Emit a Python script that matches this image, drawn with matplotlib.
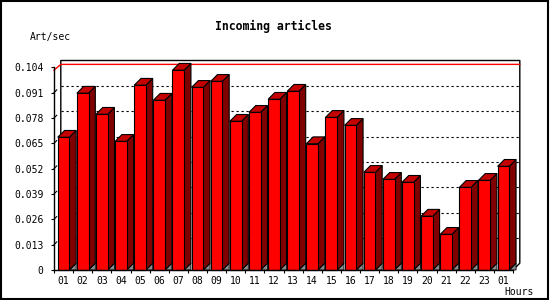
import numpy as np
import matplotlib
matplotlib.use('Agg')
import matplotlib.pyplot as plt
from matplotlib.patches import Polygon, Rectangle

hours = ['01', '02', '03', '04', '05', '06', '07', '08', '09', '10', '11', '12',
         '13', '14', '15', '16', '17', '18', '19', '20', '21', '22', '23', '01']
rate = [0.0681, 0.0907, 0.0799, 0.0660, 0.0948, 0.0871, 0.1025, 0.0937,
        0.0968, 0.0763, 0.0809, 0.0876, 0.0917, 0.0648, 0.0783, 0.0742,
        0.0501, 0.0465, 0.0450, 0.0276, 0.0183, 0.0424, 0.0460, 0.0532]
yticks = [0, 0.013, 0.026, 0.039, 0.052, 0.065, 0.078, 0.091, 0.104]
ytick_labels = ['0', '0.013', '0.026', '0.039', '0.052', '0.065', '0.078', '0.091', '0.104']

W, H = 550, 300
fig = plt.figure(figsize=(W / 100, H / 100), dpi=100)
fig.patch.set_facecolor('white')
fig.patches.append(Rectangle((0.001, 0.002), 0.996, 0.994, transform=fig.transFigure,
                             fill=False, edgecolor='black', linewidth=1.5))

# front plane of the plot in pixels
x0, x1, y0, y1 = 54, 513, 270, 67.3
ax = fig.add_axes([x0 / W, (H - y0) / H, (x1 - x0) / W, (y0 - y1) / H])
n = len(rate)
ymax = 0.104
ax.set_xlim(0, n)
ax.set_ylim(0, ymax)

# 3d depth (pixels -> data units)
DX = 6.8 / ((x1 - x0) / n)
DY = 6.8 / ((y0 - y1) / ymax)
mono = 'DejaVu Sans Mono'

# back wall: frame and dotted grid
bx = [DX, DX, n + DX, n + DX, n]
by = [DY, ymax + DY, ymax + DY, DY, 0]
ax.plot(bx, by, color='black', lw=1, clip_on=False, zorder=1)
for v in yticks[1:-1]:
    ax.plot([DX, n + DX], [v + DY, v + DY], color='black', lw=0.8,
            linestyle=(0, (2, 2.5)), clip_on=False, zorder=1)
    ax.plot([0, DX * 0.4], [v, v + DY * 0.4], color='black', lw=0.8,
            clip_on=False, zorder=1)
ax.plot([0, DX, n + DX], [ymax - 0.0015, ymax + 0.0015, ymax + 0.0015],
        color='red', lw=1, clip_on=False, zorder=1)

# bars
width = 0.61
xs = np.arange(n) + 0.5
for i, (xc, v) in enumerate(zip(xs, rate)):
    l, r = xc - width / 2, xc + width / 2
    z = 2 + i * 0.01
    ax.add_patch(Polygon([(r, 0), (r + DX, DY), (r + DX, 0)], closed=True,
                         facecolor='#8c8c8c', edgecolor='black', lw=0.6,
                         clip_on=False, zorder=z))
    ax.add_patch(Polygon([(r, 0), (r + DX, DY), (r + DX, v + DY), (r, v)], closed=True,
                         facecolor='#800000', edgecolor='black', lw=0.8,
                         clip_on=False, zorder=z))
    ax.add_patch(Polygon([(l, v), (l + DX, v + DY), (r + DX, v + DY), (r, v)], closed=True,
                         facecolor='#c40000', edgecolor='black', lw=0.8,
                         clip_on=False, zorder=z))
    ax.bar(xc, v, width, color='#ff0000', edgecolor='black', linewidth=0.8,
           zorder=z + 0.005, clip_on=False)

# axes
for s in ['top', 'right']:
    ax.spines[s].set_visible(False)
for s in ['left', 'bottom']:
    ax.spines[s].set_linewidth(1)
    ax.spines[s].set_zorder(5)
ax.set_facecolor('none')
ax.set_yticks(yticks)
ax.set_yticklabels(ytick_labels, fontfamily=mono, fontsize=7)
ax.tick_params(axis='y', length=2.5, width=0.8, pad=5)
ax.set_xticks(np.arange(n + 1))
ax.set_xticklabels([])
ax.tick_params(axis='x', which='major', length=2.5, width=0.8)
ax.set_xticks(xs, minor=True)
ax.set_xticklabels(hours, minor=True, fontfamily=mono, fontsize=7)
ax.tick_params(axis='x', which='minor', length=0, pad=4)

fig.text(273.6 / W, 1 - 26.7 / H, 'Incoming articles', ha='center', va='center',
         fontfamily=mono, fontweight='bold', fontsize=8.3)
fig.text(29.8 / W, 1 - 37 / H, 'Art/sec', ha='left', va='center',
         fontfamily=mono, fontsize=7)
fig.text(534 / W, 1 - 292 / H, 'Hours', ha='right', va='center',
         fontfamily=mono, fontsize=7)

fig.savefig('out.png', dpi=100, facecolor='white')
